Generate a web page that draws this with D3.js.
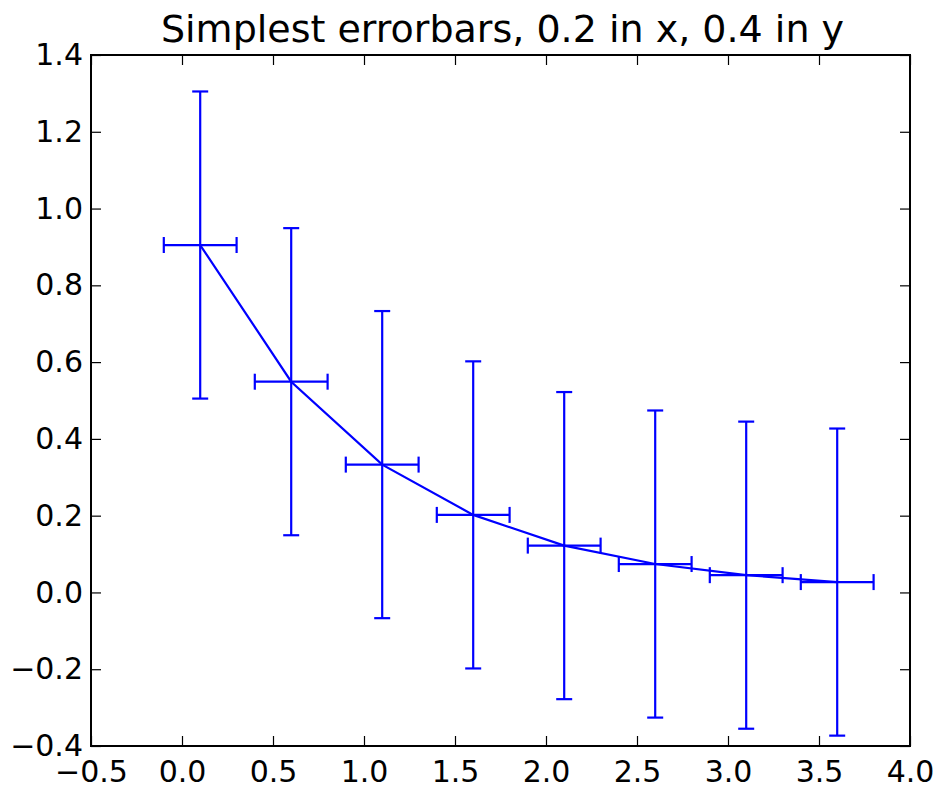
<!DOCTYPE html>
<html><head><meta charset="utf-8">
<script src="https://cdn.jsdelivr.net/npm/d3@7"></script>
<style>body{margin:0;background:#fff}svg{display:block}</style>
</head><body>
<script>
const xVals = [0.1, 0.6, 1.1, 1.6, 2.1, 2.6, 3.1, 3.6];
const yVals = [0.905, 0.549, 0.333, 0.202, 0.122, 0.074, 0.045, 0.027];
const xErr = [0.2, 0.2, 0.2, 0.2, 0.2, 0.2, 0.2, 0.2];
const yErr = [0.4, 0.4, 0.4, 0.4, 0.4, 0.4, 0.4, 0.4];
const xTicks = [-0.5, 0.0, 0.5, 1.0, 1.5, 2.0, 2.5, 3.0, 3.5, 4.0];
const yTicks = [-0.4, -0.2, 0.0, 0.2, 0.4, 0.6, 0.8, 1.0, 1.2, 1.4];
const title = "Simplest errorbars, 0.2 in x, 0.4 in y";

const W = 942, H = 788;
const L = 91, R = 910, T = 55, B = 746;
const font = "DejaVu Sans";
const color = "#0000ff";

const svg = d3.select("body").append("svg").attr("width", W).attr("height", H);
const x = d3.scaleLinear().domain([-0.5, 4.0]).range([L, R]);
const y = d3.scaleLinear().domain([-0.4, 1.4]).range([B, T]);
const fmt = v => (v < 0 ? "\u2212" : "") + Math.abs(v).toFixed(1);
const tl = 10;

const gxB = svg.append("g").attr("transform", `translate(0,${B})`)
  .call(d3.axisBottom(x).tickValues(xTicks).tickFormat(fmt).tickSizeInner(-tl).tickSizeOuter(0).tickPadding(15));
const gxT = svg.append("g").attr("transform", `translate(0,${T})`)
  .call(d3.axisTop(x).tickValues(xTicks).tickFormat("").tickSizeInner(-tl).tickSizeOuter(0));
const gyL = svg.append("g").attr("transform", `translate(${L},0)`)
  .call(d3.axisLeft(y).tickValues(yTicks).tickFormat(fmt).tickSizeInner(-tl).tickSizeOuter(0).tickPadding(8));
const gyR = svg.append("g").attr("transform", `translate(${R},0)`)
  .call(d3.axisRight(y).tickValues(yTicks).tickFormat("").tickSizeInner(-tl).tickSizeOuter(0));
[gxB, gxT, gyL, gyR].forEach(g => {
  g.select(".domain").remove();
  g.selectAll(".tick line").attr("stroke", "#000").attr("stroke-width", 1.2);
  g.selectAll("text").attr("font-family", font).attr("font-size", 30).attr("fill", "#000");
});
gxB.selectAll("text").attr("dy", "0.71em");

const data = xVals.map((v, i) => ({x: v, y: yVals[i], xe: xErr[i], ye: yErr[i]}));
const cap = 8;
const eg = svg.append("g").attr("stroke", color).attr("stroke-width", 2.2).attr("fill", "none");
data.forEach(d => {
  eg.append("line").attr("x1", x(d.x)).attr("x2", x(d.x)).attr("y1", y(d.y - d.ye)).attr("y2", y(d.y + d.ye));
  eg.append("line").attr("x1", x(d.x - d.xe)).attr("x2", x(d.x + d.xe)).attr("y1", y(d.y)).attr("y2", y(d.y));
  [d.y - d.ye, d.y + d.ye].forEach(v =>
    eg.append("line").attr("x1", x(d.x) - cap).attr("x2", x(d.x) + cap).attr("y1", y(v)).attr("y2", y(v)));
  [d.x - d.xe, d.x + d.xe].forEach(v =>
    eg.append("line").attr("x1", x(v)).attr("x2", x(v)).attr("y1", y(d.y) - cap).attr("y2", y(d.y) + cap));
});
svg.append("path").datum(data)
  .attr("d", d3.line().x(d => x(d.x)).y(d => y(d.y)))
  .attr("fill", "none").attr("stroke", color).attr("stroke-width", 2.2);

svg.append("rect").attr("x", L).attr("y", T).attr("width", R - L).attr("height", B - T)
  .attr("fill", "none").attr("stroke", "#000").attr("stroke-width", 2);

svg.append("text").attr("x", (L + R) / 2 + 2).attr("y", 42).attr("text-anchor", "middle")
  .attr("font-family", font).attr("font-size", 38).attr("fill", "#000").text(title);
</script>
</body></html>
